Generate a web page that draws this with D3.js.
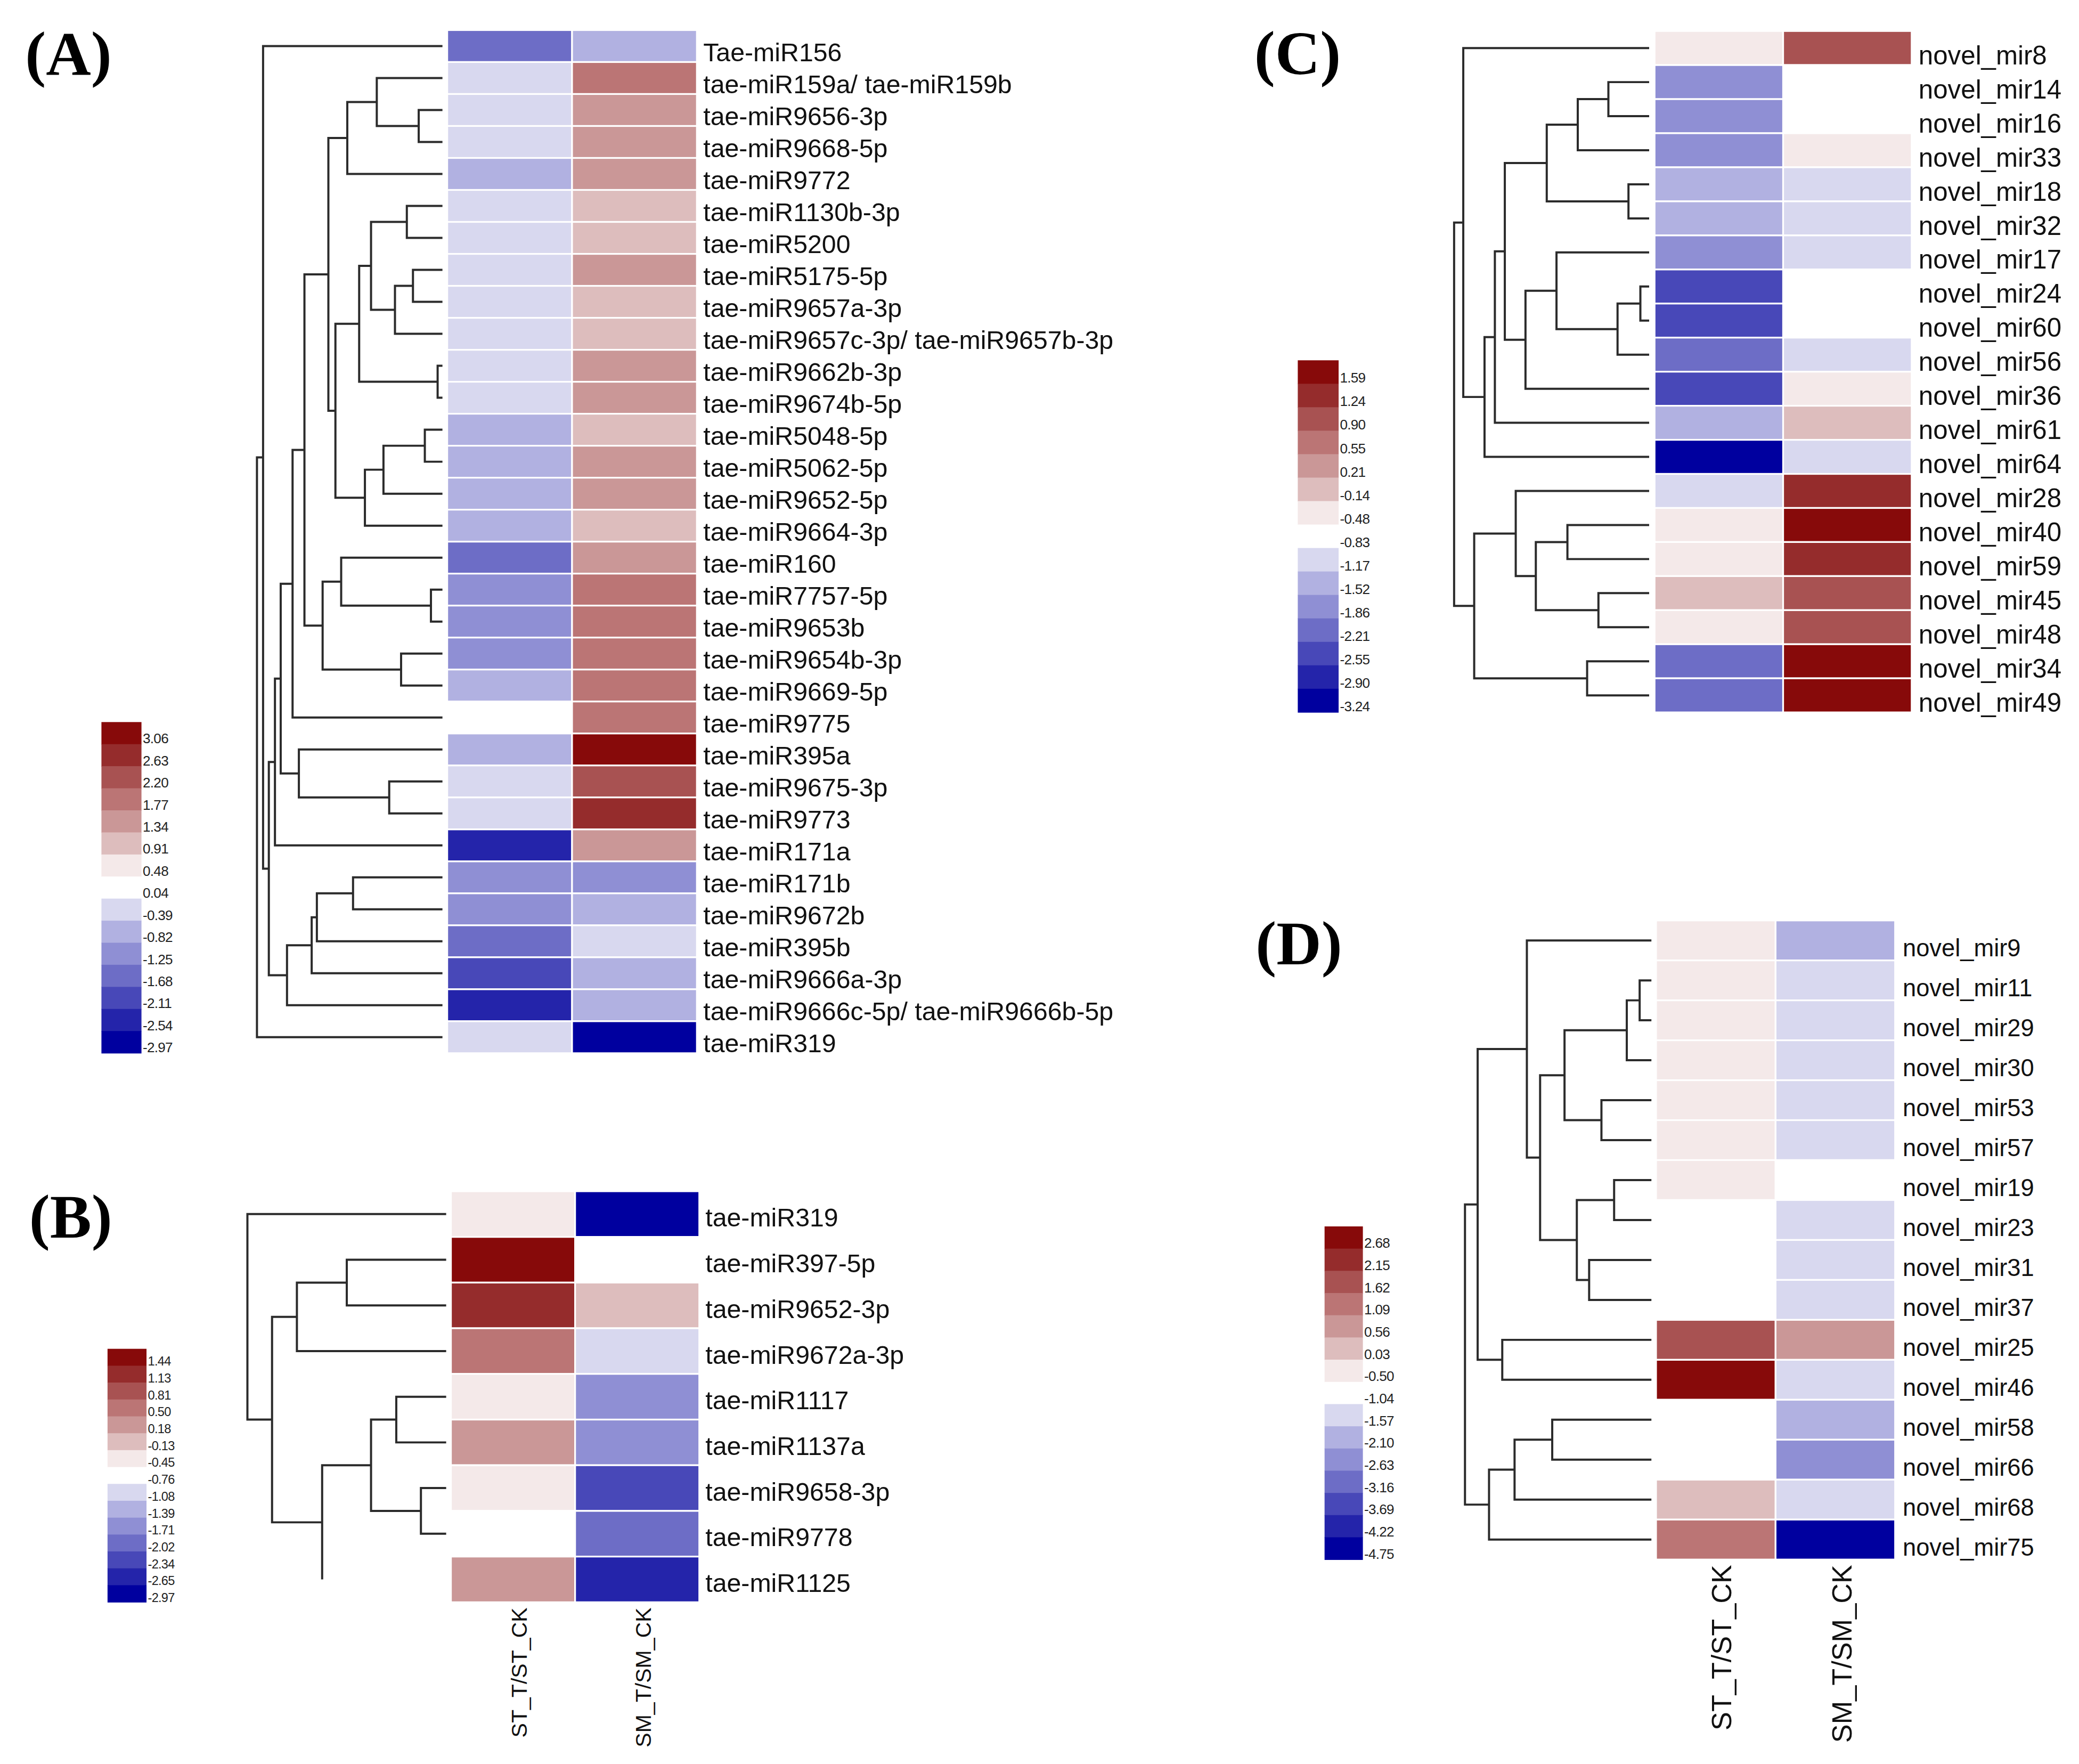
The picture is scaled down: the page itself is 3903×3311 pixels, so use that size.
<!DOCTYPE html>
<html>
<head>
<meta charset="utf-8">
<script src="https://cdn.jsdelivr.net/npm/d3@7"></script>
<style>
  html, body { margin: 0; padding: 0; background: #fff; }
  svg { display: block; }
</style>
</head>
<body>
<script>
const W = 3903, H = 3311;
const VW = 1568, VH = 1330;

const columns = ["ST_T/ST_CK", "SM_T/SM_CK"];

// colour steps, light to dark
const redSteps = ["#f4e9e9", "#ddbdbd", "#ca9797", "#bb7575", "#a85252", "#952c2c", "#870a0a"];
const blueSteps = ["#d8d8ef", "#b1b1e1", "#8f8fd4", "#6d6dc6", "#4848b8", "#2424aa", "#00009f"];
const palette = [...blueSteps.slice().reverse(), "#ffffff", ...redSteps];

// ---- panel A ----
const rowsA = ["Tae-miR156", "tae-miR159a/ tae-miR159b", "tae-miR9656-3p", "tae-miR9668-5p", "tae-miR9772",
  "tae-miR1130b-3p", "tae-miR5200", "tae-miR5175-5p", "tae-miR9657a-3p", "tae-miR9657c-3p/ tae-miR9657b-3p",
  "tae-miR9662b-3p", "tae-miR9674b-5p", "tae-miR5048-5p", "tae-miR5062-5p", "tae-miR9652-5p", "tae-miR9664-3p",
  "tae-miR160", "tae-miR7757-5p", "tae-miR9653b", "tae-miR9654b-3p", "tae-miR9669-5p", "tae-miR9775",
  "tae-miR395a", "tae-miR9675-3p", "tae-miR9773", "tae-miR171a", "tae-miR171b", "tae-miR9672b", "tae-miR395b",
  "tae-miR9666a-3p", "tae-miR9666c-5p/ tae-miR9666b-5p", "tae-miR319"];
const stA = [-1.68, -0.39, -0.39, -0.39, -0.82, -0.39, -0.39, -0.39, -0.39, -0.39, -0.39, -0.39, -0.82, -0.82, -0.82, -0.82,
  -1.68, -1.25, -1.25, -1.25, -0.82, 0.04, -0.82, -0.39, -0.39, -2.54, -1.25, -1.25, -1.68, -2.11, -2.54, -0.39];
const smA = [-0.82, 1.77, 1.34, 1.34, 1.34, 0.91, 0.91, 1.34, 0.91, 0.91, 1.34, 1.34, 0.91, 1.34, 1.34, 0.91,
  1.34, 1.77, 1.77, 1.77, 1.77, 1.77, 3.06, 2.20, 2.63, 1.34, -1.25, -0.82, -0.39, -0.82, -0.82, -2.97];
const legendA = [3.06, 2.63, 2.20, 1.77, 1.34, 0.91, 0.48, 0.04, -0.39, -0.82, -1.25, -1.68, -2.11, -2.54, -2.97];
// hclust style merges: negative = leaf (1-based), positive = earlier merge
const mergeA = [[-11, -12], [-18, -19], [-13, -14], [-3, -4], [-8, -9], [-6, -7], [-20, -21], [5, -10], [-24, -25],
  [3, -15], [-2, 4], [6, 8], [10, -16], [12, 1], [-27, -28], [11, -5], [-17, 2], [14, 13], [16, 18], [17, 7],
  [15, -29], [21, -30], [19, 20], [-23, 9], [23, -22], [22, -31], [25, 24], [27, -26], [28, 26], [-1, 29], [30, -32]];
const heightA = [0.026, 0.062, 0.095, 0.128, 0.159, 0.192, 0.223, 0.256, 0.287, 0.318, 0.354, 0.385, 0.418, 0.449,
  0.482, 0.513, 0.546, 0.577, 0.615, 0.646, 0.677, 0.705, 0.744, 0.774, 0.808, 0.838, 0.872, 0.903, 0.936, 0.967, 1.0];

// ---- panel B ----
const rowsB = ["tae-miR319", "tae-miR397-5p", "tae-miR9652-3p", "tae-miR9672a-3p", "tae-miR1117", "tae-miR1137a",
  "tae-miR9658-3p", "tae-miR9778", "tae-miR1125"];
const stB = [-0.45, 1.44, 1.13, 0.50, -0.45, 0.18, -0.45, -0.76, 0.18];
const smB = [-2.97, -0.76, -0.13, -1.08, -1.71, -1.71, -2.34, -2.02, -2.65];
const legendB = [1.44, 1.13, 0.81, 0.50, 0.18, -0.13, -0.45, -0.76, -1.08, -1.39, -1.71, -2.02, -2.34, -2.65, -2.97];
const mergeB = [[-7, -8], [-5, -6], [2, 1], [-2, -3], [3, -9], [4, -4], [6, 5], [-1, 7]];
const heightB = [0.127, 0.251, 0.378, 0.5, 0.624, 0.751, 0.876, 1.0];
const hiddenB = ["tae-miR1125"];

// ---- panel C ----
const rowsC = ["novel_mir8", "novel_mir14", "novel_mir16", "novel_mir33", "novel_mir18", "novel_mir32", "novel_mir17",
  "novel_mir24", "novel_mir60", "novel_mir56", "novel_mir36", "novel_mir61", "novel_mir64", "novel_mir28",
  "novel_mir40", "novel_mir59", "novel_mir45", "novel_mir48", "novel_mir34", "novel_mir49"];
const stC = [-0.48, -1.86, -1.86, -1.86, -1.52, -1.52, -1.86, -2.55, -2.55, -2.21, -2.55, -1.52, -3.24, -1.17,
  -0.48, -0.48, -0.14, -0.48, -2.21, -2.21];
const smC = [0.90, -0.83, -0.83, -0.48, -1.17, -1.17, -1.17, -0.83, -0.83, -1.17, -0.48, -0.14, -1.17, 1.24,
  1.59, 1.24, 0.90, 0.90, 1.59, 1.59];
const legendC = [1.59, 1.24, 0.90, 0.55, 0.21, -0.14, -0.48, -0.83, -1.17, -1.52, -1.86, -2.21, -2.55, -2.90, -3.24];
const mergeC = [[-8, -9], [-5, -6], [1, -10], [-2, -3], [-17, -18], [-19, -20], [4, -4], [-15, -16], [-7, 3],
  [7, 2], [8, 5], [9, -11], [-14, 11], [10, 12], [14, -12], [15, -13], [13, 6], [-1, 16], [18, 17]];
const heightC = [0.045, 0.106, 0.162, 0.209, 0.260, 0.318, 0.366, 0.419, 0.475, 0.525, 0.581, 0.634, 0.684,
  0.740, 0.791, 0.844, 0.897, 0.953, 1.0];

// ---- panel D ----
const rowsD = ["novel_mir9", "novel_mir11", "novel_mir29", "novel_mir30", "novel_mir53", "novel_mir57", "novel_mir19",
  "novel_mir23", "novel_mir31", "novel_mir37", "novel_mir25", "novel_mir46", "novel_mir58", "novel_mir66",
  "novel_mir68", "novel_mir75"];
const stD = [-0.50, -0.50, -0.50, -0.50, -0.50, -0.50, -0.50, -1.04, -1.04, -1.04, 1.62, 2.68, -1.04, -1.04, 0.03, 1.09];
const smD = [-2.10, -1.57, -1.57, -1.57, -1.57, -1.57, -1.04, -1.57, -1.57, -1.57, 0.56, -1.57, -2.10, -2.63, -1.57, -4.75];
const legendD = [2.68, 2.15, 1.62, 1.09, 0.56, 0.03, -0.50, -1.04, -1.57, -2.10, -2.63, -3.16, -3.69, -4.22, -4.75];
const mergeD = [[-2, -3], [1, -4], [-7, -8], [-5, -6], [-9, -10], [3, 5], [2, 4], [-13, -14], [7, 6], [-1, 9],
  [8, -15], [-11, -12], [11, -16], [10, 12], [14, 13]];
const heightD = [0.063, 0.132, 0.200, 0.268, 0.334, 0.400, 0.466, 0.532, 0.597, 0.668, 0.734, 0.800, 0.871, 0.932, 1.0];

const svg = d3.select("body")
  .append("svg")
  .attr("width", W)
  .attr("height", H)
  .attr("viewBox", `0 0 ${VW} ${VH}`);

svg.append("rect").attr("width", VW).attr("height", VH).attr("fill", "#fff");

function drawPanel(p) {
  const g = svg.append("g");

  const y = d3.scaleBand().domain(p.rows).range([p.top, p.bottom]);
  const x = d3.scaleBand().domain(columns).range([p.left, p.right]);

  const lab = p.legend;
  const lo = lab[lab.length - 1], hi = lab[0];
  const step = (hi - lo) / (lab.length - 1);
  const color = d3.scaleQuantize().domain([lo - step / 2, hi + step / 2]).range(palette);

  // heatmap cells
  const cells = p.rows.flatMap((r, i) => columns.map((c, j) => ({ r, c, v: p.values[j][i] })));
  g.selectAll("rect.cell")
    .data(cells)
    .join("rect")
    .attr("class", "cell")
    .attr("x", d => x(d.c))
    .attr("y", d => y(d.r))
    .attr("width", x.bandwidth())
    .attr("height", y.bandwidth())
    .attr("fill", d => color(d.v))
    .attr("stroke", "#fff")
    .attr("stroke-width", 1.3);

  // row labels
  g.selectAll("text.row")
    .data(p.rows)
    .join("text")
    .attr("class", "row")
    .attr("x", p.labelX)
    .attr("y", d => y(d) + y.bandwidth() / 2 + p.labelDy)
    .attr("font-family", "Liberation Sans, Arial, sans-serif")
    .attr("font-size", p.labelSize)
    .attr("fill", "#111")
    .text(d => d);

  // column labels
  if (p.colSize) {
    g.selectAll("text.col")
      .data(columns)
      .join("text")
      .attr("class", "col")
      .attr("transform", (d, i) => `translate(${x(d) + x.bandwidth() / 2 + p.colDx[i]},${p.bottom + 4}) rotate(-90)`)
      .attr("text-anchor", "end")
      .attr("font-family", "Liberation Sans, Arial, sans-serif")
      .attr("font-size", p.colSize)
      .attr("fill", "#111")
      .text(d => d);
  }

  // dendrogram
  const hx = d3.scaleLinear().domain([0, d3.max(p.heights)]).range([p.leafX, p.rootX]);
  const nodes = [];
  const hidden = p.hidden || [];
  const pos = c => c < 0
    ? { x: hx(0), y: y(p.rows[-c - 1]) + y.bandwidth() / 2, name: p.rows[-c - 1] }
    : nodes[c - 1];
  const paths = p.merge.map(([a, b], k) => {
    const pa = pos(a), pb = pos(b);
    const nx = hx(p.heights[k]);
    nodes.push({ x: nx, y: (pa.y + pb.y) / 2 });
    const path = d3.path();
    path.moveTo(pa.x, pa.y);
    path.lineTo(nx, pa.y);
    path.lineTo(nx, pb.y);
    if (!hidden.includes(pb.name)) path.lineTo(pb.x, pb.y);
    return path.toString();
  });
  g.selectAll("path.dendro")
    .data(paths)
    .join("path")
    .attr("class", "dendro")
    .attr("d", d => d)
    .attr("fill", "none")
    .attr("stroke", "#2b2b2b")
    .attr("stroke-width", 1.6);

  // legend
  const ly = d3.scaleBand().domain(d3.range(lab.length)).range([p.lgTop, p.lgBottom]);
  const lg = g.append("g");
  lg.selectAll("rect")
    .data(lab)
    .join("rect")
    .attr("x", p.lgX)
    .attr("y", (d, i) => ly(i))
    .attr("width", p.lgW)
    .attr("height", ly.bandwidth() + 0.3)
    .attr("fill", d => color(d));
  lg.selectAll("text")
    .data(lab)
    .join("text")
    .attr("x", p.lgX + p.lgW + 1)
    .attr("y", (d, i) => ly(i) + ly.bandwidth() * 0.8)
    .attr("dominant-baseline", "middle")
    .attr("font-family", "Liberation Sans, Arial, sans-serif")
    .attr("font-size", p.lgSize)
    .attr("letter-spacing", -0.3)
    .attr("fill", "#222")
    .text(d => d.toFixed(2));

  // panel tag
  g.append("text")
    .attr("x", p.tagX)
    .attr("y", p.tagY)
    .attr("font-family", "Liberation Serif, Times New Roman, serif")
    .attr("font-weight", "bold")
    .attr("font-size", 47)
    .attr("fill", "#000")
    .text(p.tag);
}

drawPanel({
  tag: "(A)", tagX: 19, tagY: 56,
  rows: rowsA, values: [stA, smA], legend: legendA, merge: mergeA, heights: heightA,
  top: 22.6, bottom: 794.1, left: 337.3, right: 525.6, leafX: 333.7, rootX: 193.8,
  labelX: 530.4, labelSize: 19.4, labelDy: 11.5,
  lgX: 76.5, lgW: 30.2, lgTop: 544.4, lgBottom: 794, lgSize: 10.5
});

drawPanel({
  tag: "(B)", tagX: 22, tagY: 933,
  rows: rowsB, values: [stB, smB], legend: legendB, merge: mergeB, heights: heightB, hidden: hiddenB,
  top: 898.2, bottom: 1208.1, left: 340.1, right: 527.4, leafX: 336.5, rootX: 186.6,
  labelX: 532, labelSize: 19.4, labelDy: 9.5,
  colSize: 16.5, colDx: [10.5, 10.3],
  lgX: 81.1, lgW: 29.4, lgTop: 1017, lgBottom: 1208, lgSize: 9.5
});

drawPanel({
  tag: "(C)", tagX: 946, tagY: 55.6,
  rows: rowsC, values: [stC, smC], legend: legendC, merge: mergeC, heights: heightC,
  top: 23.3, bottom: 537.1, left: 1247.9, right: 1441.8, leafX: 1243.8, rootX: 1096.7,
  labelX: 1447, labelSize: 19.8, labelDy: 12.3,
  lgX: 978.8, lgW: 30.8, lgTop: 271.6, lgBottom: 537, lgSize: 10.5
});

drawPanel({
  tag: "(D)", tagX: 947, tagY: 727,
  rows: rowsD, values: [stD, smD], legend: legendD, merge: mergeD, heights: heightD,
  top: 694, bottom: 1175.9, left: 1249, right: 1429.3, leafX: 1245.5, rootX: 1104.9,
  labelX: 1435, labelSize: 18.2, labelDy: 12,
  colSize: 21, colDx: [11.4, 12.4],
  lgX: 999, lgW: 28.9, lgTop: 924.7, lgBottom: 1175.9, lgSize: 10.5
});
</script>
</body>
</html>
